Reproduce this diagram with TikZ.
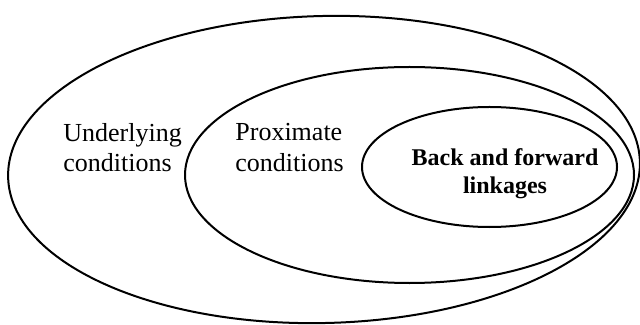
\documentclass[tikz,border=0pt]{standalone}
\usepackage{fontspec}
\setmainfont{Liberation Serif}
\usetikzlibrary{shapes.geometric}

\begin{document}
\begin{tikzpicture}[x=0.5pt, y=-0.5pt,
  ring/.style={draw=black, line width=1pt, ellipse, inner sep=0pt, outer sep=0pt},
  lbl/.style={inner sep=0pt, align=left, anchor=west, font=\fontsize{13}{15.2}\selectfont},
  core/.style={inner sep=0pt, align=center, font=\bfseries\fontsize{12}{14}\selectfont}]
\useasboundingbox (0,0) rectangle (640,325);
% nested conditions
\node[ring, minimum width=316pt, minimum height=153.5pt, rotate=1.4] (outer) at (324,169.5) {};
\node[ring, minimum width=224.5pt, minimum height=108pt] (mid) at (409.5,175) {};
\node[ring, minimum width=127.5pt, minimum height=60pt] (inner) at (489.5,167) {};
% labels
\node[lbl] (ulab) at (63,147.5) {Underlying\\conditions};
\node[lbl] (plab) at (235,147.5) {Proximate\\conditions};
\node[core] (blab) at (505,173.5) {Back and forward\\linkages};
\end{tikzpicture}
\end{document}
